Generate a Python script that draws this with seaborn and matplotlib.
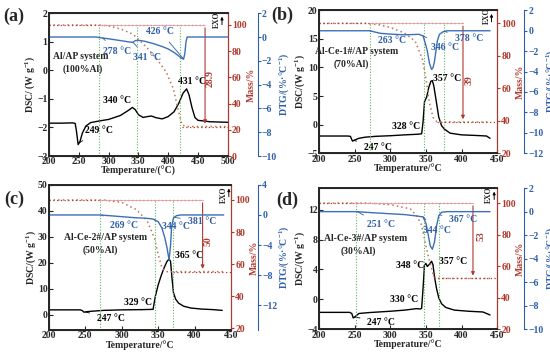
import numpy as np
import seaborn as sns
import matplotlib.pyplot as plt

# ---- datos ----
# (a) Al/AP
t_a = [200, 220, 240, 244, 246, 249, 252, 256, 262, 270, 285, 300, 320, 335, 340, 345, 350, 358, 365, 372,
       380, 390, 400, 410, 418, 425, 431, 435, 440, 445, 450, 470, 500]
dsc_a = [-1.85, -1.85, -1.84, -1.86, -2.1, -2.6, -2.5, -2.2, -1.95, -1.83, -1.77, -1.72, -1.58, -1.38, -1.3,
         -1.38, -1.55, -1.65, -1.62, -1.6, -1.66, -1.7, -1.62, -1.45, -1.15, -0.8, -0.65, -0.85, -1.3, -1.65,
         -1.75, -1.8, -1.82]
t_dtg_a = [200, 250, 278, 300, 320, 335, 341, 345, 350, 360, 375, 390, 400, 410, 418, 423, 426, 428, 430, 432, 440, 500]
dtg_a = [0, 0, 0, -0.15, -0.3, -0.42, -0.45, -0.3, -0.28, -0.35, -0.55, -0.8, -1.0, -1.3, -1.6, -1.8, -1.85,
         -1.4, -0.4, 0, 0, 0]
t_mass_a = [200, 285, 300, 320, 341, 364, 381, 397, 409, 417, 423, 430, 500]
mass_a = [100, 100, 99.3, 97, 93, 83, 74, 64, 51, 35, 24, 22.5, 22.5]

# (b) Al-Ce-1#/AP
t_b = [200, 240, 244, 247, 250, 256, 265, 280, 300, 320, 340, 344, 346, 348, 351, 354, 357, 359, 361, 364,
       368, 372, 376, 384, 400, 420, 435, 440]
dsc_b = [-2.0, -2.0, -2.05, -2.9, -2.7, -2.4, -2.2, -2.05, -1.95, -1.8, -1.68, -1.6, 0.5, 4.0, 4.8, 6.5, 7.6,
         7.7, 6.8, 4.5, 1.3, -0.2, -0.8, -1.5, -1.8, -1.9, -2.0, -2.4]
t_dtg_b = [200, 263, 271, 286, 300, 320, 340, 346, 349, 352, 355, 358, 360, 362, 364, 366, 369, 374, 380, 440]
dtg_b = [0, 0, 0, -0.25, -0.33, -0.4, -0.35, -0.5, -1.2, -2.0, -3.2, -3.8, -3.6, -3.0, -2.0, -1.0, -0.35,
         -0.1, 0, 0]
t_mass_b = [200, 265, 285, 300, 320, 335, 345, 350, 355, 360, 365, 370, 440]
mass_b = [100, 100, 99, 97.5, 94, 89, 78, 66, 51, 42, 39.5, 39.2, 39.2]

# (c) Al-Ce-2#/AP
t_c = [200, 243, 246, 248, 252, 260, 275, 300, 330, 343, 346, 350, 354, 358, 362, 365, 367, 369, 371, 374,
       378, 385, 395, 410, 425, 438]
dsc_c = [1.9, 1.9, 1.6, 1.0, 1.2, 1.4, 1.7, 1.9, 2.0, 2.1, 7.0, 11.5, 15.0, 18.0, 20.5, 21.5, 20.5, 14.0,
         8.5, 6.0, 4.5, 3.3, 2.6, 2.2, 2.0, 1.7]
t_dtg_c = [200, 270, 290, 316, 335, 343, 350, 355, 359, 362, 365, 367, 368.5, 371, 375, 381, 440]
dtg_c = [0, 0, -0.15, -0.35, -0.45, -0.55, -0.9, -1.7, -3.0, -4.3, -6.0, -4.0, -1.5, -0.4, -0.1, 0, 0]
t_mass_c = [200, 275, 300, 320, 335, 345, 350, 355, 360, 440]
mass_c = [100, 100, 98.5, 94, 87, 76, 66, 58, 55.3, 55.3]

# (d) Al-Ce-3#/AP
t_d = [200, 243, 246, 248, 251, 256, 270, 300, 320, 337, 342, 344, 346, 348, 350, 352, 355, 358, 360, 362,
       365, 368, 372, 378, 390, 410, 430, 440]
dsc_d = [-1.75, -1.75, -1.9, -2.5, -2.3, -1.9, -1.78, -1.6, -1.45, -1.25, -1.3, -1.2, 1.5, 4.6, 4.8, 4.4,
         4.7, 5.1, 4.6, 3.0, 1.4, 0.2, -0.6, -1.1, -1.45, -1.6, -1.7, -2.1]
t_dtg_d = [200, 252, 272, 300, 320, 337, 346, 350, 353, 356, 359, 362, 365, 368, 372, 380, 440]
dtg_d = [0, 0, -0.08, -0.18, -0.25, -0.37, -0.45, -1.0, -1.9, -2.9, -3.2, -2.6, -1.2, -0.35, -0.05, 0, 0]
t_mass_d = [200, 270, 300, 328, 337, 344, 349, 354, 360, 364, 440]
mass_d = [100, 100, 99, 96.4, 92, 86, 75, 65, 55, 52.2, 52.2]

# colores
c_mass = '#b0392e'
c_dtg = '#2f5fa8'
c_dtg_line = '#3d6fb8'
c_mass_line = '#b8775a'
c_green = '#5cb85c'

sns.set_theme(style='ticks')
plt.rcParams['font.family'] = ['Liberation Serif', 'DejaVu Serif']
plt.rcParams['font.weight'] = 'bold'
plt.rcParams['axes.labelweight'] = 'bold'
plt.rcParams['mathtext.fontset'] = 'custom'
plt.rcParams['mathtext.rm'] = 'Liberation Serif:bold'
plt.rcParams['mathtext.it'] = 'Liberation Serif:bold'
plt.rcParams['mathtext.default'] = 'rm'
FS = 7


def dibujar_panel(fig, pos, letra, letra_xy, t, dsc, t_dtg, dtg, t_mass, mass, cfg):
    ax = fig.add_axes(pos)
    ax2 = ax.twinx()
    ax3 = ax.twinx()
    # desplazamiento en puntos (px * 0.72)
    ax3.spines['right'].set_position(('outward', cfg['offset'] * 0.72))

    # curvas
    sns.lineplot(x=t, y=dsc, ax=ax, color='black', lw=1.0)
    sns.lineplot(x=t_mass, y=mass, ax=ax2, color=c_mass_line, lw=1.1, linestyle=(0, (1, 2)))
    sns.lineplot(x=t_dtg, y=dtg, ax=ax3, color=c_dtg_line, lw=1.0)

    ax.set_xlim(cfg['xlim'])
    ax.set_ylim(cfg['dsc_lim'])
    ax.set_yticks(cfg['dsc_ticks'])
    ax.set_xticks(cfg['xticks'])
    ax2.set_ylim(cfg['mass_lim'])
    ax2.set_yticks(cfg['mass_ticks'])
    ax3.set_ylim(cfg['dtg_lim'])
    ax3.set_yticks(cfg['dtg_ticks'])

    # lineas auxiliares
    final = mass[-1]
    xa = cfg['arrow_x']
    ax2.plot([cfg['xlim'][0], xa], [100, 100], ls=(0, (1, 2)), color=c_mass, lw=0.9)
    ax2.plot([cfg['vlines'][0], xa], [100, 100], ls='-', color='#e8a0a0', lw=0.6)
    ax2.plot([cfg['low_x'], cfg['xlim'][1]], [final, final], ls=(0, (1, 2)), color=c_mass, lw=0.9)
    for v in cfg['vlines']:
        ax2.plot([v, v], [cfg['mass_lim'][0], 100], ls=(0, (1, 1.5)), color=c_green, lw=0.8)
    ax2.annotate('', xy=(xa, final), xytext=(xa, 100),
                 arrowprops=dict(arrowstyle='-|>', color=c_mass, lw=0.8, mutation_scale=5))
    ax2.text(cfg['lab_pos'][0], cfg['lab_pos'][1], cfg['loss'], transform=ax2.transAxes, rotation=90,
             color=c_mass, fontsize=FS, ha='center', va='center')

    # EXO
    ex, ey = cfg['exo']
    ax.text(ex, ey, 'EXO', transform=ax.transAxes, rotation=90, fontsize=5.5, ha='center', va='center')
    ax.annotate('', xy=(ex + 0.028, 0.995), xytext=(ex + 0.028, 0.9), xycoords='axes fraction',
                arrowprops=dict(arrowstyle='-|>', color='black', lw=0.7, mutation_scale=4))

    # textos
    for txt, (tx, ty) in cfg['system']:
        ax.text(tx, ty, txt, transform=ax.transAxes, fontsize=FS, ha='center', va='center')
    for txt, (tx, ty), pt, eje in cfg['notes']:
        if eje == 'dtg':
            destino, col = ax3, c_dtg
        else:
            destino, col = ax, 'black'
        if pt is None:
            destino.text(tx, ty, txt, transform=destino.transAxes, fontsize=FS, color=col,
                         ha='center', va='center')
            continue
        yp = np.interp(pt, t_dtg, dtg) if eje == 'dtg' else np.interp(pt, t, dsc)
        destino.annotate(txt, xy=(pt, yp), xytext=(tx, ty), textcoords='axes fraction',
                         fontsize=FS, color=col, ha='center', va='center',
                         arrowprops=dict(arrowstyle='-', color=col, lw=0.6, shrinkA=3, shrinkB=0))

    # estilo de ejes
    ax.tick_params(axis='both', direction='in', labelsize=FS, length=3, width=0.8, pad=1)
    ax2.tick_params(axis='y', direction='out', labelsize=FS, colors=c_mass, length=2.5, width=0.8, pad=0.5)
    ax3.tick_params(axis='y', direction='out', labelsize=FS, colors=c_dtg, length=2.5, width=0.8, pad=0.5)
    for s in ax.spines.values():
        s.set_linewidth(0.8)
    ax2.spines['right'].set_color(c_mass)
    ax3.spines['right'].set_color(c_dtg)
    ax2.spines['right'].set_linewidth(0.8)
    ax3.spines['right'].set_linewidth(0.8)
    ax.set_xlabel(cfg['xlabel'], fontsize=FS, labelpad=0)
    ax.set_ylabel(cfg['ylabel'], fontsize=FS, labelpad=0)
    ax2.set_ylabel('Mass/%', fontsize=FS, color=c_mass, labelpad=0)
    ax3.set_ylabel('DTG/(%·°C$^{-1}$)', fontsize=FS, color=c_dtg, labelpad=0)
    fig.text(letra_xy[0] / 550, 1 - letra_xy[1] / 357, letra, fontsize=13, fontweight='bold',
             ha='left', va='center')


fig = plt.figure(figsize=(5.5, 3.57), dpi=100)

cfg_a = dict(offset=30, xlim=(200, 500), xticks=range(200, 501, 50), dsc_lim=(-3, 2), dsc_ticks=range(-3, 3),
             mass_lim=(0, 109), mass_ticks=range(0, 101, 20), dtg_lim=(-10, 2), dtg_ticks=range(-10, 3, 2),
             arrow_x=462, low_x=423, vlines=[284, 347, 420], loss='28.9', lab_pos=(0.9, 0.54),
             exo=(0.94, 0.955), xlabel='Temperature/(°C)', ylabel='DSC/ (W g$^{-1}$)',
             system=[('Al/AP system', (0.18, 0.70)), ('(100%Al)', (0.19, 0.61))],
             notes=[('278 °C', (0.38, 0.735), 290, 'dtg'), ('341 °C', (0.55, 0.69), 341, 'dtg'),
                    ('426 °C', (0.62, 0.875), 426, 'dtg'), ('340 °C', (0.38, 0.39), None, 'dsc'),
                    ('431 °C', (0.80, 0.52), None, 'dsc'), ('249 °C', (0.28, 0.177), 251, 'dsc')])
cfg_b = dict(offset=27, xlim=(200, 450), xticks=range(200, 451, 50), dsc_lim=(-5, 20), dsc_ticks=range(-5, 21, 5),
             mass_lim=(20, 108), mass_ticks=range(20, 101, 20), dtg_lim=(-12, 2), dtg_ticks=range(-12, 3, 2),
             arrow_x=402, low_x=365, vlines=[271, 347, 376], loss='39', lab_pos=(0.84, 0.51),
             exo=(0.94, 0.96), xlabel='Temperature/°C', ylabel='DSC/(W g$^{-1}$)',
             system=[('Al-Ce-1#/AP system', (0.21, 0.71)), ('(70%Al)', (0.18, 0.62))],
             notes=[('263 °C', (0.41, 0.79), 272, 'dtg'), ('346 °C', (0.71, 0.74), 346, 'dtg'),
                    ('378 °C', (0.84, 0.80), 376, 'dtg'), ('357 °C', (0.72, 0.52), None, 'dsc'),
                    ('328 °C', (0.49, 0.19), None, 'dsc'), ('247 °C', (0.33, 0.04), 249, 'dsc')])
cfg_c = dict(offset=27, xlim=(200, 450), xticks=range(200, 451, 50), dsc_lim=(-5.8, 50),
             dsc_ticks=range(0, 51, 10), mass_lim=(19, 109.4), mass_ticks=range(20, 101, 20),
             dtg_lim=(-15.3, 4), dtg_ticks=range(-12, 5, 4), arrow_x=411, low_x=371, vlines=[270, 346, 371],
             loss='50', lab_pos=(0.875, 0.61), exo=(0.96, 0.93), xlabel='Temperature/°C',
             ylabel='DSC/(W g$^{-1}$)',
             system=[('Al-Ce-2#/AP system', (0.31, 0.64)), ('(50%Al)', (0.28, 0.55))],
             notes=[('269 °C', (0.41, 0.72), 272, 'dtg'), ('344 °C', (0.70, 0.71), 344, 'dtg'),
                    ('381 °C', (0.84, 0.75), 372, 'dtg'), ('365 °C', (0.77, 0.51), None, 'dsc'),
                    ('329 °C', (0.49, 0.19), None, 'dsc'), ('247 °C', (0.34, 0.08), 250, 'dsc')])
cfg_d = dict(offset=27, xlim=(200, 450), xticks=range(200, 451, 50), dsc_lim=(-4, 14.9),
             dsc_ticks=range(-4, 13, 4), mass_lim=(20, 109.5), mass_ticks=range(20, 101, 20),
             dtg_lim=(-10, 2), dtg_ticks=range(-10, 3, 2), arrow_x=416, low_x=361, vlines=[252, 347, 369],
             loss='53', lab_pos=(0.91, 0.66), exo=(0.955, 0.955), xlabel='Temperature/°C',
             ylabel='DSC/(W g$^{-1}$)',
             system=[('Al-Ce-3#/AP system', (0.26, 0.64)), ('(30%Al)', (0.22, 0.55))],
             notes=[('251 °C', (0.35, 0.74), 254, 'dtg'), ('344 °C', (0.66, 0.70), 346, 'dtg'),
                    ('367 °C', (0.81, 0.78), 369, 'dtg'), ('348 °C', (0.51, 0.45), None, 'dsc'),
                    ('357 °C', (0.75, 0.48), None, 'dsc'), ('330 °C', (0.475, 0.21), None, 'dsc'),
                    ('247 °C', (0.35, 0.05), 250, 'dsc')])

dibujar_panel(fig, [0.089, 0.563, 0.325, 0.40], '(a)', (3, 16), t_a, dsc_a, t_dtg_a, dtg_a, t_mass_a, mass_a, cfg_a)
dibujar_panel(fig, [0.58, 0.571, 0.324, 0.40], '(b)', (271, 15), t_b, dsc_b, t_dtg_b, dtg_b, t_mass_b, mass_b, cfg_b)
dibujar_panel(fig, [0.089, 0.076, 0.331, 0.406], '(c)', (4, 199), t_c, dsc_c, t_dtg_c, dtg_c, t_mass_c, mass_c, cfg_c)
dibujar_panel(fig, [0.58, 0.078, 0.324, 0.395], '(d)', (276, 200), t_d, dsc_d, t_dtg_d, dtg_d, t_mass_d, mass_d, cfg_d)

plt.savefig('out.png', dpi=100)
